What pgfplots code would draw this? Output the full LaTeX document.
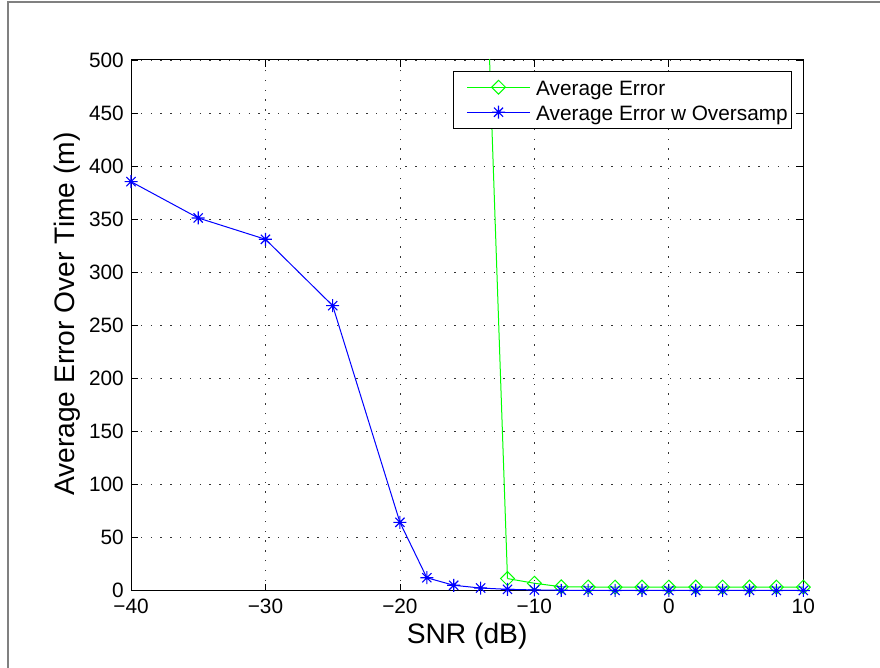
\documentclass[border=0pt]{standalone}
\usepackage{fontspec}
\setmainfont{Liberation Sans}
\usepackage{pgfplots}
\pgfplotsset{compat=1.18}
\definecolor{mgreen}{rgb}{0,1,0}
\definecolor{mblue}{rgb}{0,0,1}
\definecolor{frame}{RGB}{128,128,128}
\pgfdeclareplotmark{mstar}{%
  \pgfpathmoveto{\pgfqpoint{0pt}{\pgfplotmarksize}}\pgfpathlineto{\pgfqpoint{0pt}{-\pgfplotmarksize}}%
  \pgfpathmoveto{\pgfqpoint{\pgfplotmarksize}{0pt}}\pgfpathlineto{\pgfqpoint{-\pgfplotmarksize}{0pt}}%
  \pgfpathmoveto{\pgfqpoint{0.707\pgfplotmarksize}{0.707\pgfplotmarksize}}\pgfpathlineto{\pgfqpoint{-0.707\pgfplotmarksize}{-0.707\pgfplotmarksize}}%
  \pgfpathmoveto{\pgfqpoint{-0.707\pgfplotmarksize}{0.707\pgfplotmarksize}}\pgfpathlineto{\pgfqpoint{0.707\pgfplotmarksize}{-0.707\pgfplotmarksize}}%
  \pgfusepathqstroke}
\begin{document}
\begin{tikzpicture}
\useasboundingbox (0pt,0pt) rectangle (880pt,668pt);
\fill[white] (0pt,0pt) rectangle (880pt,668pt);
\draw[line width=1.5pt, frame] (8pt,-10pt) -- (8pt,666pt) -- (890pt,666pt);
\begin{axis}[
  at={(131pt,77.2pt)}, anchor=south west,
  scale only axis, width=672.3pt, height=530.8pt,
  xmin=-40, xmax=10, ymin=0, ymax=500,
  xtick={-40,-30,-20,-10,0,10},
  xticklabels={−40,−30,−20,−10,0,10},
  ytick={0,50,100,150,200,250,300,350,400,450,500},
  yticklabels={0,50,100,150,200,250,300,350,400,450,500},
  tick align=inside, major tick length=7pt,
  tick style={black, line width=0.8pt},
  axis line style={black, line width=1pt},
  tick label style={font=\fontsize{20.8}{24}\selectfont, inner sep=0pt},
  xticklabel style={anchor=base, yshift=-22.5pt},
  yticklabel style={anchor=east, xshift=-7pt},
  grid=major,
  major grid style={black!80, line width=0.8pt, dash pattern=on 1.3pt off 8.5pt},
  xlabel={SNR (dB)}, ylabel={Average Error Over Time (m)},
  label style={font=\fontsize{28.2}{32}\selectfont},
  xlabel style={at={(axis description cs:0.5,-0.0989)}, anchor=base},
  ylabel style={at={(axis description cs:-0.0833,0.5211)}, anchor=base},
  clip mode=individual,
  legend cell align=left,
  legend style={at={(axis description cs:0.9836,0.9798)}, anchor=north east,
    draw=black, line width=1pt, fill=white,
    font=\fontsize{20.8}{24}\selectfont,
    inner xsep=4pt, inner ysep=3.5pt, row sep=0pt, column sep=5.5pt,
    nodes={inner sep=0pt, text height=20.55pt, text depth=4.45pt}},
  legend image code/.code={
    \path (0pt,0pt);
    \draw[mark repeat=2, mark phase=2] plot coordinates {(8.7pt,0pt) (40.35pt,0pt) (72pt,0pt)};
  },
]
% steep segment entering from above the axis (line only)
\addplot[mgreen, line width=1pt, forget plot]
  coordinates {(-14,745) (-12,11.5)};
\addplot[mgreen, line width=1pt, mark=square, mark size=4.9pt,
  mark options={rotate=45, solid, fill=none, line width=1pt}]
  coordinates {(-12,11.5) (-10,7.1) (-8,3.8) (-6,3.6) (-4,3.5) (-2,3.5) (0,3.5) (2,3.5) (4,3.5) (6,3.5) (8,3.5) (10,3.5)};
\addlegendentry{Average Error}
\addplot[mblue, line width=1pt, mark=mstar, mark size=6.5pt, mark options={solid, line width=1.1pt}]
  coordinates {(-40,385.4) (-35,351.2) (-30,331.1) (-25,268.6) (-20,64.5) (-18,12.3) (-16,5.2) (-14,2.6) (-12,1.4) (-10,0.8) (-8,0.5) (-6,0.4) (-4,0.3) (-2,0.3) (0,0.3) (2,0.3) (4,0.3) (6,0.3) (8,0.3) (10,0.3)};
\addlegendentry{Average Error w Oversamp}
\end{axis}
\end{tikzpicture}
\end{document}
